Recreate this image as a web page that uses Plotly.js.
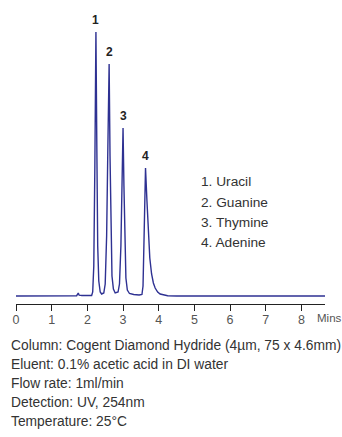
<!DOCTYPE html>
<html>
<head>
<meta charset="utf-8">
<script src="https://cdn.plot.ly/plotly-3.0.1.min.js"></script>
<style>html,body{margin:0;padding:0;background:#fff;}#chart{width:342px;height:437px;}</style>
</head>
<body>
<div id="chart"></div>
<script>
// Retention time (min) and detector signal (relative units)
const timeMin = [0, 1.65, 1.70, 1.745, 1.77, 1.85, 2.05, 2.12, 2.15, 2.18, 2.21, 2.24, 2.265, 2.29, 2.32, 2.36, 2.40,
  2.46, 2.50, 2.54, 2.575, 2.61, 2.635, 2.66, 2.69, 2.73, 2.78,
  2.86, 2.90, 2.94, 2.97, 3.00, 3.025, 3.05, 3.08, 3.12, 3.18, 3.30, 3.45,
  3.53, 3.56, 3.59, 3.63, 3.67, 3.71, 3.75, 3.80, 3.85, 3.90, 3.97, 4.04, 4.13, 4.25, 4.50, 8.66];
const signal = [0, 0, 0.3, 3, 0.8, 0.5, 0.5, 0.5, 4, 30, 130, 264, 150, 50, 15, 4, 2,
  3, 12, 60, 150, 232, 140, 60, 20, 7, 3,
  4, 12, 50, 115, 168, 110, 50, 18, 6, 2.5, 1.5, 1,
  1.5, 10, 60, 128, 95, 60, 38, 22, 13, 8, 4, 2, 1, 0.3, 0, 0];

// Peaks
const peakLabels = ["1", "2", "3", "4"];
const peakTimes = [2.24, 2.61, 3.00, 3.63];
const peakHeights = [264, 232, 168, 128];
const compounds = ["1. Uracil", "2. Guanine", "3. Thymine", "4. Adenine"];

// Axis ticks
const tickVals = [0, 1, 2, 3, 4, 5, 6, 7, 8];
const tickText = ["0", "1", "2", "3", "4", "5", "6", "7", "8"];
const axisUnit = "Mins";

// Method conditions
const conditions = [
  "Column: Cogent Diamond Hydride (4µm, 75 x 4.6mm)",
  "Eluent: 0.1% acetic acid in DI water",
  "Flow rate: 1ml/min",
  "Detection: UV, 254nm",
  "Temperature: 25°C"
];

const FONT = "'Liberation Sans', Arial, sans-serif";
const annotations = [];
peakLabels.forEach((lab, i) => {
  annotations.push({x: peakTimes[i], y: peakHeights[i], xref: 'x', yref: 'y', text: '<b>' + lab + '</b>',
    showarrow: false, yanchor: 'bottom', yshift: 3, font: {family: FONT, size: 12, color: '#222'}});
});
compounds.forEach((c, i) => {
  annotations.push({x: (201.7 - 16) / 309, y: 0, xref: 'paper', yref: 'paper', text: c, showarrow: false,
    xanchor: 'left', yanchor: 'middle', yshift: (304 - 181.7) - i * 20.3, xshift: -3,
    font: {family: FONT, size: 13.7, color: '#333'}});
});
conditions.forEach((c, i) => {
  annotations.push({x: (12 - 16) / 309, y: 0, xref: 'paper', yref: 'paper', text: c, showarrow: false,
    xanchor: 'left', yanchor: 'middle', yshift: -(345 - 304) - i * 19.2, xshift: -3,
    font: {family: FONT, size: 13.8, color: '#333'}});
});
annotations.push({x: (318 - 16) / 309, y: 0, xref: 'paper', yref: 'paper', text: axisUnit, showarrow: false,
  xanchor: 'left', yanchor: 'middle', yshift: -14, xshift: -3, font: {family: FONT, size: 11.5, color: '#555'}});

const data = [{
  x: timeMin, y: signal, type: 'scatter', mode: 'lines',
  line: {color: '#2e3192', width: 1.4}, hoverinfo: 'skip'
}];

const layout = {
  width: 342, height: 437,
  margin: {l: 16, r: 17, t: 10, b: 133},
  paper_bgcolor: '#fff', plot_bgcolor: '#fff',
  showlegend: false,
  xaxis: {
    range: [0, 8.66], tickvals: tickVals, ticktext: tickText,
    showline: true, linecolor: '#222', linewidth: 1.3,
    ticks: 'outside', ticklen: 6, tickwidth: 1, tickcolor: '#222',
    ticklabelstandoff: -2,
    showgrid: false, zeroline: false, fixedrange: true,
    tickfont: {family: FONT, size: 12.5, color: '#555'}
  },
  yaxis: {range: [-8, 286], visible: false, showgrid: false, zeroline: false, fixedrange: true},
  annotations: annotations
};

Plotly.newPlot('chart', data, layout, {staticPlot: true, displayModeBar: false});
</script>
</body>
</html>
